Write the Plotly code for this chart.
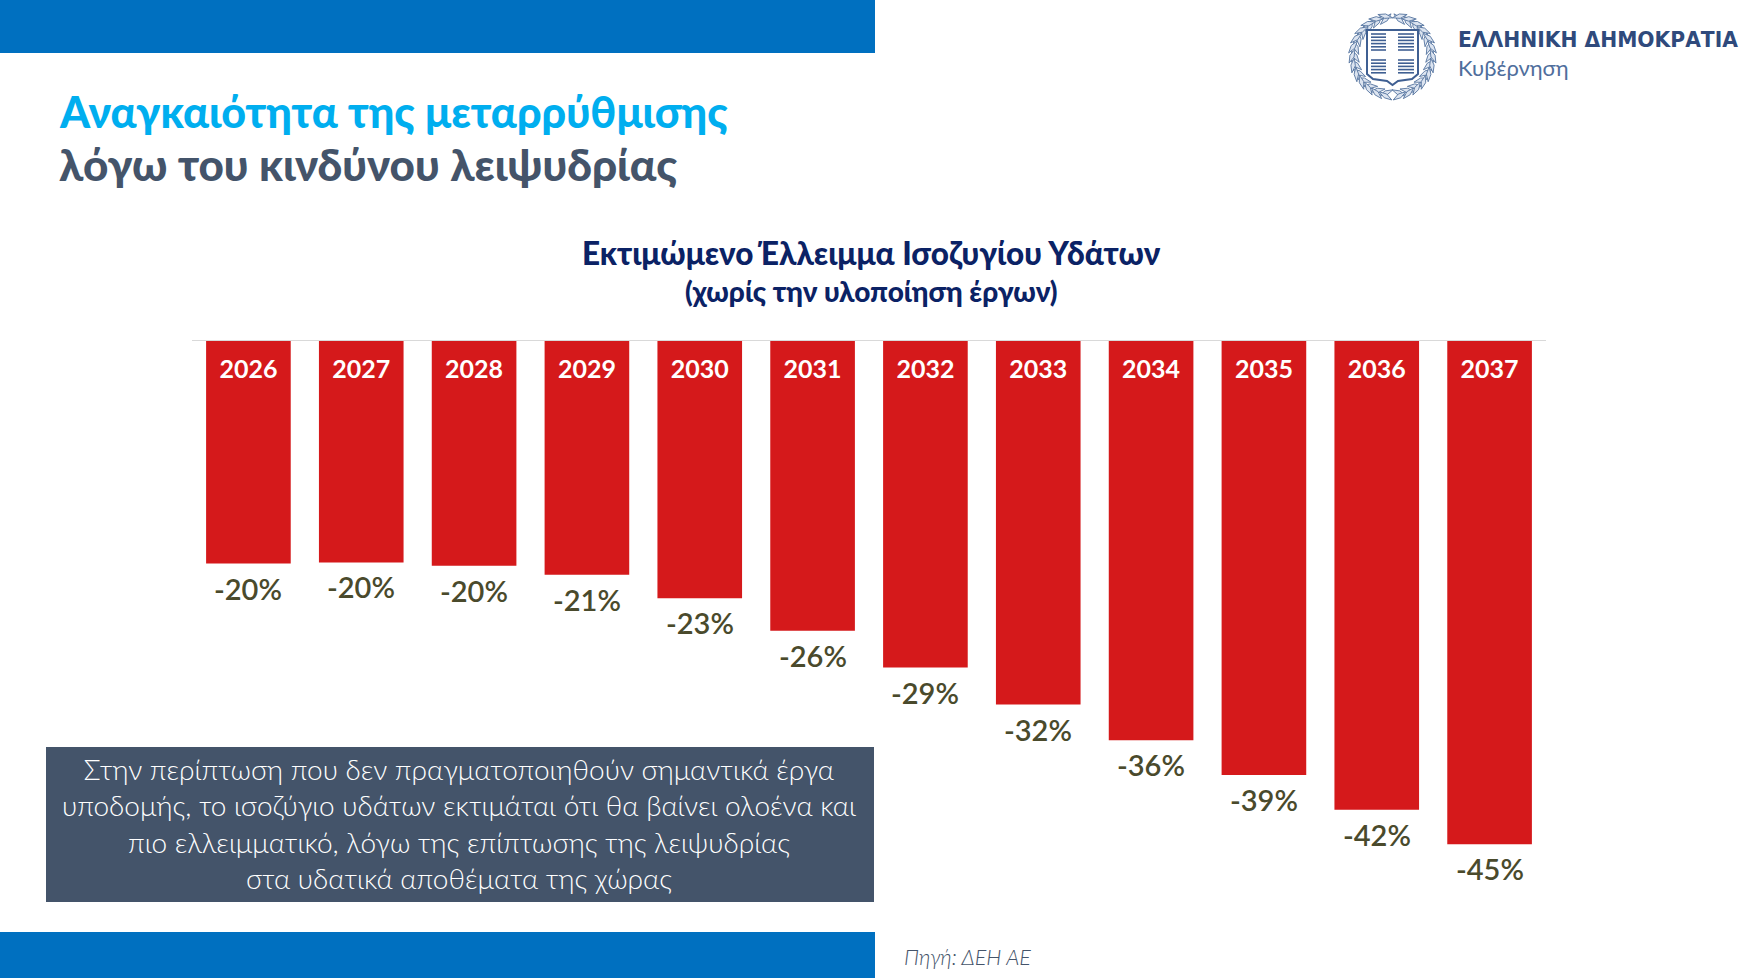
import math
import plotly.graph_objects as go

years = ["2026", "2027", "2028", "2029", "2030", "2031", "2032", "2033", "2034", "2035", "2036", "2037"]
deficit = [-19.9, -19.8, -20.1, -20.9, -23.0, -25.9, -29.2, -32.5, -35.7, -38.8, -41.9, -45.0]
labels = ["-20%", "-20%", "-20%", "-21%", "-23%", "-26%", "-29%", "-32%", "-36%", "-39%", "-42%", "-45%"]

title_top = "Αναγκαιότητα της μεταρρύθμισης"
title_bottom = "λόγω του κινδύνου λειψυδρίας"
chart_title = "Εκτιμώμενο Έλλειμμα Ισοζυγίου Υδάτων"
chart_subtitle = "(χωρίς την υλοποίηση έργων)"
note_lines = [
    "Στην περίπτωση που δεν πραγματοποιηθούν σημαντικά έργα",
    "υποδομής, το ισοζύγιο υδάτων εκτιμάται ότι θα βαίνει ολοένα και",
    "πιο ελλειμματικό, λόγω της επίπτωσης της λειψυδρίας",
    "στα υδατικά αποθέματα της χώρας",
]
source = "Πηγή: ΔΕΗ ΑΕ"
org_name = "ΕΛΛΗΝΙΚΗ ΔΗΜΟΚΡΑΤΙΑ"
org_sub = "Κυβέρνηση"

W, H = 1745, 978
L, R, T, B = 192, 199, 341, 99
FONT = "Lato"
PW, PH = W - L - R, H - T - B


def px(x):
    return (x - L) / PW


def py(y):
    return 1 - (y - T) / PH


def rect(x0, y0, x1, y1, color):
    return dict(type="rect", xref="paper", yref="paper", x0=px(x0), x1=px(x1), y0=py(y0), y1=py(y1),
                fillcolor=color, line_width=0, layer="below")


def path_shape(points, fill, line, width=0.8, close=True):
    d = "M " + " L ".join(f"{px(a):.5f} {py(b):.5f}" for a, b in points) + (" Z" if close else "")
    return dict(type="path", xref="paper", yref="paper", path=d, fillcolor=fill,
                line=dict(color=line, width=width), layer="above")


def text(x, y, s, size, color, anchor="left", weight=400, style="normal", family=FONT):
    return dict(xref="paper", yref="paper", x=px(x), y=py(y), text=s, showarrow=False, xanchor=anchor,
                yanchor="middle", align="center", font=dict(family=family, size=size, color=color,
                                                            weight=weight, style=style))


shapes = [rect(0, 0, 875, 53, "#0070C0"), rect(0, 932, 875, 978, "#0070C0"), rect(46, 747, 874, 902, "#44546A")]

# Emblem: wreath of leaves and a striped shield
cx, cy = 1392.5, 56
EMB = "#3F5F92"
for k in range(26):
    a = math.radians(100 + k * 13.3) if k < 13 else math.radians(80 - (k - 13) * 13.3)
    sgn = 1 if k < 13 else -1
    for r0, tilt in ((37.5, 0.6), (40.5, -0.4)):
        px0, py0 = cx + r0 * math.cos(a), cy + r0 * math.sin(a)
        t = a + sgn * (math.pi / 2 + tilt) * -1
        ln = 7.5
        dx, dy = math.cos(t) * ln, math.sin(t) * ln
        nx, ny = -dy * 0.3, dx * 0.3
        shapes.append(path_shape([(px0 - dx, py0 - dy), (px0 + nx, py0 + ny), (px0 + dx, py0 + dy), (px0 - nx, py0 - ny)],
                                 "#DCE4F0", "#55749F", 0.9))

shield = [(1367, 30), (1418, 30), (1418, 74), (1412, 79), (1398, 81), (1392.5, 85), (1387, 81), (1373, 79), (1367, 74)]
shapes.append(path_shape(shield, "#FFFFFF", EMB, 2))
for x0, x1 in ((1371, 1386), (1398, 1414)):
    for y0, y1 in ((34, 51), (60, 76)):
        y = y0
        while y < y1:
            shapes.append(dict(type="line", xref="paper", yref="paper", x0=px(x0), x1=px(x1), y0=py(y), y1=py(y),
                               line=dict(color=EMB, width=1.6), layer="above"))
            y += 3.2

annotations = [
    text(57, 111, title_top, 43, "#00AEEF", weight=900),
    text(57, 164, title_bottom, 44, "#44546A", weight=900),
    text(871, 253, chart_title, 31.5, "#0B2265", "center", 900),
    text(871, 291, chart_subtitle, 28, "#0B2265", "center", 900),
    text(459, 823, "<br>".join(note_lines), 28, "#FFFFFF", "center", 300),
    text(902, 957, source, 21.5, "#44546A", style="italic", weight=300),
    text(1456, 40, org_name, 20.3, "#2F4A7C", weight=700, family="DejaVu Sans"),
    text(1456, 67, org_sub, 22, "#4F6E9C"),
]
for i, (val, lab) in enumerate(zip(deficit, labels)):
    annotations.append(dict(xref="x", yref="y", x=i, y=val, yshift=-5, yanchor="top", text=lab, showarrow=False,
                            font=dict(family=FONT, size=29, color="#4A4A2C", weight=600)))

fig = go.Figure(go.Bar(x=years, y=deficit, marker=dict(color="#D5191B", line_width=0), hoverinfo="skip"))
fig.update_layout(
    width=W, height=H, margin=dict(l=L, r=R, t=T, b=B, autoexpand=False),
    paper_bgcolor="white", plot_bgcolor="white", showlegend=False, bargap=0.25,
    shapes=shapes, annotations=annotations,
    xaxis=dict(type="category", side="top", ticklabelposition="inside", showline=True, linecolor="#D9D9D9",
               linewidth=1, ticks="", showgrid=False, zeroline=False, ticklabelstandoff=21,
               range=[-0.5, len(years) - 0.5],
               tickfont=dict(family=FONT, size=25, color="white", weight=700)),
    yaxis=dict(range=[-48.1, 0], visible=False, showgrid=False, zeroline=False),
)
fig.write_html("out.html", config={"displayModeBar": False},
               post_script="document.body.style.margin='0';document.body.style.overflow='hidden';")
